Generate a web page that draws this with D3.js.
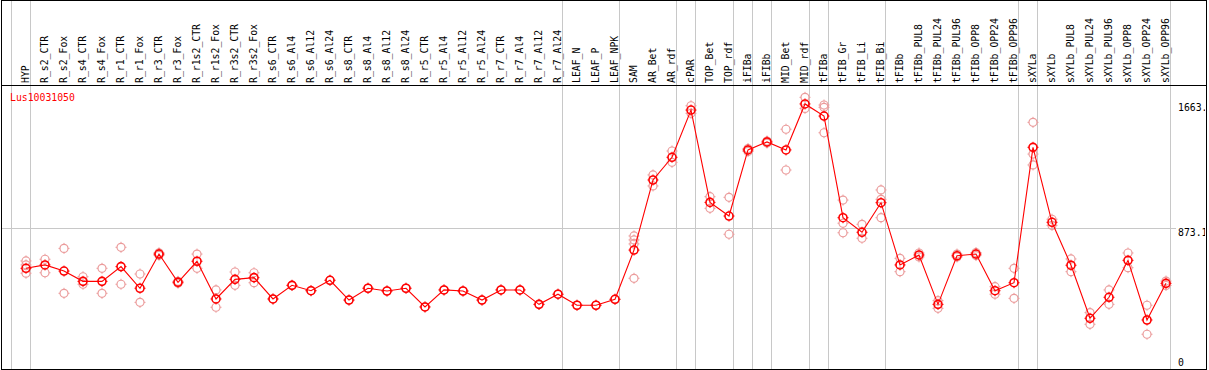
<!DOCTYPE html>
<html lang="en">
<head>
  <meta charset="utf-8" />
  <style>
    body { margin: 0; background: #fff; }
    text { font-family: "DejaVu Sans Mono", monospace; font-size: 9.8px; }
    line, rect { shape-rendering: crispEdges; }
  </style>
</head>
<body>
<svg width="1209" height="370"></svg>
<script src="https://d3js.org/d3.v7.min.js"></script>
<script>
var geneName = "Lus10031050";

var samples = ["HYP", "R_s2_CTR", "R_s2_Fox", "R_s4_CTR", "R_s4_Fox", "R_r1_CTR", "R_r1_Fox",
  "R_r3_CTR", "R_r3_Fox", "R_r1s2_CTR", "R_r1s2_Fox", "R_r3s2_CTR", "R_r3s2_Fox",
  "R_s6_CTR", "R_s6_Al4", "R_s6_Al12", "R_s6_Al24", "R_s8_CTR", "R_s8_Al4", "R_s8_Al12", "R_s8_Al24",
  "R_r5_CTR", "R_r5_Al4", "R_r5_Al12", "R_r5_Al24", "R_r7_CTR", "R_r7_Al4", "R_r7_Al12", "R_r7_Al24",
  "LEAF_N", "LEAF_P", "LEAF_NPK", "SAM", "AR_Bet", "AR_rdf", "cPAR", "TOP_Bet", "TOP_rdf",
  "iFIBa", "iFIBb", "MID_Bet", "MID_rdf", "tFIBa", "tFIB_Gr", "tFIB_Li", "tFIB_Bi", "tFIBb",
  "tFIBb_PUL8", "tFIBb_PUL24", "tFIBb_PUL96", "tFIBb_OPP8", "tFIBb_OPP24", "tFIBb_OPP96",
  "sXYLa", "sXYLb", "sXYLb_PUL8", "sXYLb_PUL24", "sXYLb_PUL96", "sXYLb_OPP8", "sXYLb_OPP24", "sXYLb_OPP96"];

// mean expression per sample
var means = [611, 633, 593, 526, 526, 622, 481, 704, 520, 657, 411, 539, 550,
  411, 500, 465, 533, 404, 481, 463, 481, 359, 470, 463, 404, 470, 470, 376, 442,
  370, 370, 409, 730, 1187, 1335, 1643, 1041, 952, 1383, 1435, 1383, 1683, 1604,
  941, 846, 1039, 633, 698, 376, 693, 704, 465, 517,
  1400, 911, 631, 285, 422, 663, 274, 513];

// individual replicates
var replicates = [[659, 633, 579], [670, 582], [741, 448], [556, 507], [611, 448], [748, 507], [574, 389],
  [712, 696], [526, 514], [704, 611], [470, 357], [587, 500], [582, 517],
  [411], [500], [465], [533], [404], [481], [463], [481], [359], [470], [463], [404], [470], [470], [376], [442],
  [370], [370], [409], [822, 796, 770, 546], [1220, 1148], [1376, 1302], [1671, 1622], [1078, 1002], [1074, 833],
  [1392, 1373], [1441, 1428], [1518, 1252], [1726, 1654], [1676, 1661, 1495],
  [1056, 905, 843], [898, 807], [1122, 1061, 941], [676, 589], [711, 685], [400, 350], [704, 685],
  [714, 694], [491, 442], [611, 415],
  [1563, 1356, 1285], [931, 891], [672, 589], [322, 246], [470, 376], [711, 615], [370, 181], [528, 499]];

// group separators drawn after these sample indices
var separators = [-1, 0, 28, 31, 34, 35, 37, 38, 39, 41, 42, 45, 52, 53, 60];

var tickValues = [1663, 873.1, 0];
var tickLabels = ["1663.", "873.1", "0"];

var svg = d3.select("svg"),
    W = 1206, H = 369;

var x = d3.scaleLinear().domain([0, samples.length - 1]).range([26, 1166]),
    y = d3.scaleLinear().domain([0, 1663]).range([362, 107]);

// grid
svg.selectAll(".vsep").data(separators).enter().append("line")
    .attr("x1", function(d) { return Math.round(x(d)) + 4.5; })
    .attr("x2", function(d) { return Math.round(x(d)) + 4.5; })
    .attr("y1", 0).attr("y2", H)
    .attr("stroke", "#c8c8c8");

svg.append("line")
    .attr("x1", 1).attr("x2", 1176)
    .attr("y1", Math.round(y(873.1)) + 0.5).attr("y2", Math.round(y(873.1)) + 0.5)
    .attr("stroke", "#c8c8c8");

// frame
svg.append("rect")
    .attr("x", 1.5).attr("y", 0.5)
    .attr("width", W - 1.5).attr("height", H - 0.5)
    .attr("fill", "none").attr("stroke", "#000");
svg.append("line")
    .attr("x1", 1).attr("x2", W)
    .attr("y1", 85.5).attr("y2", 85.5)
    .attr("stroke", "#000");

// header labels
svg.selectAll(".lab").data(samples).enter().append("text")
    .attr("transform", function(d, i) { return "translate(" + (x(i) + 3) + ",83) rotate(-90)"; })
    .attr("fill", "#000")
    .text(function(d) { return d; });

svg.append("text")
    .attr("x", 10).attr("y", 101)
    .attr("fill", "red")
    .text(geneName);

// right tick labels
svg.append("clipPath").attr("id", "clip")
  .append("rect").attr("x", 0).attr("y", 0).attr("width", W - 1).attr("height", H);

svg.selectAll(".tick").data(tickValues).enter().append("text")
    .attr("clip-path", "url(#clip)")
    .attr("x", 1178)
    .attr("y", function(d, i) { return y(d) + (i === 1 ? 8 : 4); })
    .attr("fill", "#000")
    .text(function(d, i) { return tickLabels[i]; });

function marker(g, cx, cy, color, w) {
  g.append("circle")
      .attr("cx", cx).attr("cy", cy).attr("r", 4)
      .attr("fill", "none").attr("stroke", color).attr("stroke-width", w);
  g.append("path")
      .attr("d", "M" + cx + "," + (cy - 5.5) + "v1.5M" + cx + "," + (cy + 4) + "v1.5" +
                 "M" + (cx - 5.5) + "," + cy + "h1.5M" + (cx + 4) + "," + cy + "h1.5")
      .attr("stroke", color).attr("stroke-width", 1);
}

// replicates
var rep = svg.append("g");
replicates.forEach(function(vals, i) {
  vals.forEach(function(v) { marker(rep, x(i), y(v), "#eb9c9c", 1.2); });
});

// mean line
svg.append("path")
    .datum(means)
    .attr("fill", "none")
    .attr("stroke", "red")
    .attr("stroke-width", 1.1)
    .attr("d", d3.line().x(function(d, i) { return x(i); }).y(function(d) { return y(d); }));

var mk = svg.append("g");
means.forEach(function(v, i) { marker(mk, x(i), y(v), "red", 1.6); });
</script>
</body>
</html>
